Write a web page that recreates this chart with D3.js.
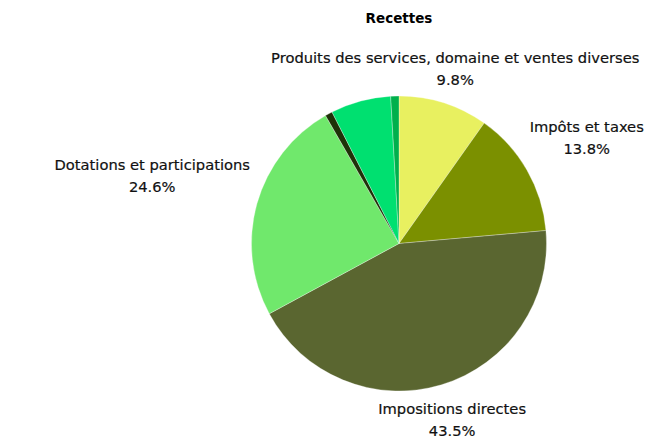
<!DOCTYPE html>
<html>
<head>
<meta charset="utf-8">
<script src="https://cdn.jsdelivr.net/npm/d3@7"></script>
<style>
	body { margin: 0; background: #fff; }
	svg { display: block; }
</style>
</head>
<body>
<div id="chart"></div>
<script>
//data
const categories = [
	'Produits des services, domaine et ventes diverses',
	'Impôts et taxes',
	'Impositions directes',
	'Dotations et participations',
	'Autres recettes',
	'Subventions',
	'Produits exceptionnels',
];
const values = [9.8, 13.8, 43.5, 24.6, 0.8, 6.6, 0.9];
const colors = ['#e8f060', '#7b9000', '#5a6630', '#70e86c', '#1e3208', '#00e070', '#00b04c'];
const labelled = [true, true, true, true, false, false, false];

render();

function render() {
	let props = {
		width: 645,
		height: 440,
		cx: 399,
		cy: 243.5,
		radius: 147.5,
		labelPad: 10,
		fontSize: 14.7,
		lineHeight: 22,
		fontColor: '#111',
	};
	createVisualization(d3.select('#chart'), props);
}

function createVisualization(container, props) {
	let { width, height, cx, cy, radius, labelPad, fontSize, lineHeight, fontColor } = props;

	const data = categories.map((name, i) => ({ name, value: values[i], color: colors[i], label: labelled[i] }));

	let svg = container
		.append('svg')
		.attr('width', width)
		.attr('height', height)
		.attr('font-family', 'DejaVu Sans, sans-serif');

	svg.append('text')
		.attr('x', cx)
		.attr('y', 23)
		.attr('text-anchor', 'middle')
		.attr('font-weight', 'bold')
		.attr('font-size', 13.5)
		.attr('fill', '#000')
		.text('Recettes');

	let pie = d3.pie().sort(null).value((d) => d.value);
	let arc = d3.arc().innerRadius(0).outerRadius(radius);
	let arcs = pie(data);

	let g = svg.append('g').attr('transform', translation(cx, cy));

	g.selectAll('.slice')
		.data(arcs)
		.enter()
		.append('path')
		.attr('class', 'slice')
		.attr('d', arc)
		.attr('fill', (d) => d.data.color)
		.attr('stroke', '#fff')
		.attr('stroke-width', 0.3);

	//labels: push the text box out along the mid angle until it clears the pie
	let labels = g.selectAll('.label')
		.data(arcs.filter((d) => d.data.label))
		.enter()
		.append('text')
		.attr('class', 'label')
		.attr('text-anchor', 'middle')
		.attr('font-size', fontSize)
		.attr('fill', fontColor)
		.attr('stroke', fontColor)
		.attr('stroke-width', 0.2);

	labels.append('tspan').attr('x', 0).attr('dy', 0).text((d) => d.data.name);
	labels.append('tspan').attr('x', 0).attr('dy', lineHeight).text((d) => d.data.value + '%');

	labels.each(function (d) {
		let text = d3.select(this);
		let w = bbox(text).width;
		let h = lineHeight * 2 - 6;
		let a = (d.startAngle + d.endAngle) / 2;
		let ux = Math.sin(a), uy = -Math.cos(a);
		let t = radius;
		while (t < radius * 3) {
			let bx = ux * t, by = uy * t;
			let nx = Math.max(Math.abs(bx) - w / 2, 0);
			let ny = Math.max(Math.abs(by) - h / 2, 0);
			if (Math.hypot(nx, ny) >= radius + labelPad) break;
			t += 0.5;
		}
		let bx = ux * t, by = uy * t;
		let shift = uy > 0 ? 2 : 4.5;
		text.attr('transform', translation(bx, by - h / 2 + fontSize * 0.75 + shift));
	});
}

//utils
function translation(x, y) {
	return `translate(${x}, ${y})`;
}

function bbox(selection) {
	return selection.node().getBBox();
}
</script>
</body>
</html>
